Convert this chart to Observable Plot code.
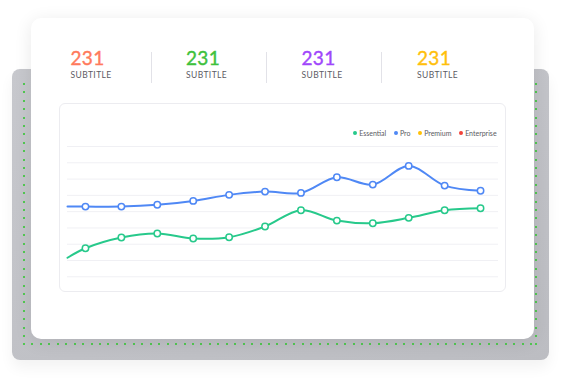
<!DOCTYPE html>
<html>
<head>
<meta charset="utf-8">
<script src="https://cdn.jsdelivr.net/npm/d3@7"></script>
<script src="https://cdn.jsdelivr.net/npm/@observablehq/plot@0.6"></script>
<style>
  html, body { margin: 0; padding: 0; background: #ffffff; }
  body { width: 564px; height: 382px; position: relative; overflow: hidden; font-family: Lato, "Open Sans", sans-serif; }
  .abs { position: absolute; }
  #back { left: 12px; top: 69px; width: 537px; height: 291px; border-radius: 8px;
    background: linear-gradient(160deg, #c7c8cd, #bcbdc2); box-shadow: 0 8px 14px rgba(0,0,0,0.05); }
  #dots { left: 23px; top: 83px; width: 514px; height: 262px;
    --g: #52c852;
    background:
      repeating-linear-gradient(to right, var(--g) 0 2px, transparent 2px 8.45px) left bottom / 100% 2px no-repeat,
      repeating-linear-gradient(to bottom, var(--g) 0 2px, transparent 2px 8.4px) left top / 2px 100% no-repeat,
      repeating-linear-gradient(to bottom, var(--g) 0 2px, transparent 2px 8.4px) right top / 2px 100% no-repeat; }
  #card { left: 31px; top: 18px; width: 503px; height: 321px; border-radius: 10px; background: #fff;
    box-shadow: 0 3px 18px rgba(0,0,0,0.09); }
  .num { font-size: 19px; line-height: 18px; font-weight: 400; letter-spacing: 0.3px; -webkit-text-stroke: 0.4px currentColor; }
  .sub { font-size: 8.5px; line-height: 9px; color: #5b5b64; letter-spacing: 0.4px; }
  .div { width: 1px; height: 31px; top: 52px; background: #e2e2e8; }
  #panel { left: 59px; top: 103px; width: 445px; height: 187px; border: 1px solid #ececf0; border-radius: 6px; background: #fff; }
  #chart { left: 59px; top: 103px; }
  #legend { left: 353px; top: 128px; height: 10px; display: flex; align-items: center; font-size: 7px; color: #5a5a62; white-space: nowrap; }
  #legend .item { display: flex; align-items: center; margin-right: 7.5px; }
  #legend .sw { width: 3.8px; height: 3.8px; border-radius: 50%; margin-right: 2.4px; }
</style>
</head>
<body>
<div id="back" class="abs"></div>
<div id="dots" class="abs"></div>
<div id="card" class="abs"></div>
<div id="stats"></div>
<div id="panel" class="abs"></div>
<div id="chart" class="abs"></div>
<div id="legend" class="abs"></div>
<script>
// ---- data ----
const statValues = ["231", "231", "231", "231"];
const statLabels = ["SUBTITLE", "SUBTITLE", "SUBTITLE", "SUBTITLE"];
const statColors = ["#ff7a5c", "#3ec13c", "#a046fb", "#ffbf0c"];

const seriesNames = ["Essential", "Pro", "Premium", "Enterprise"];
const seriesColors = ["#27c98b", "#4f88f5", "#ffc107", "#f2433a"];

const periods = [0, 1, 2, 3, 4, 5, 6, 7, 8, 9, 10, 11];
const essential = [17.5, 24.1, 26.6, 23.5, 24.3, 30.9, 40.9, 34.5, 32.9, 36.2, 40.9, 42.1];
const pro = [43.1, 43.1, 44.2, 46.6, 50.3, 52.3, 51.5, 61.1, 56.6, 68.1, 56.0, 52.8];
// value where each line enters from the left edge of the chart (half a period before the first)
const leadPeriod = -0.5;
const essentialLead = 11.7;
const proLead = 43.1;
const gridTicks = [0, 10, 20, 30, 40, 50, 60, 70, 80];

// ---- stats row ----
const stats = document.getElementById("stats");
const statLeft = [70.5, 186, 301.5, 417];
const divLeft = [151, 266, 381];
statValues.forEach((v, i) => {
  const n = document.createElement("div");
  n.className = "abs num"; n.textContent = v;
  n.style.left = statLeft[i] + "px"; n.style.top = "48.5px"; n.style.color = statColors[i];
  stats.appendChild(n);
  const s = document.createElement("div");
  s.className = "abs sub"; s.textContent = statLabels[i];
  s.style.left = statLeft[i] + "px"; s.style.top = "70.5px";
  stats.appendChild(s);
});
divLeft.forEach(x => {
  const d = document.createElement("div");
  d.className = "abs div"; d.style.left = x + "px";
  stats.appendChild(d);
});

// ---- legend ----
const legend = document.getElementById("legend");
seriesNames.forEach((name, i) => {
  const it = document.createElement("div"); it.className = "item";
  const sw = document.createElement("span"); sw.className = "sw"; sw.style.background = seriesColors[i];
  const t = document.createElement("span"); t.textContent = name;
  it.appendChild(sw); it.appendChild(t); legend.appendChild(it);
});

// ---- chart ----
const toRows = (name, values, lead) => [
  {series: name, x: leadPeriod, y: lead, marker: false},
  ...periods.map((p, i) => ({series: name, x: p, y: values[i], marker: true}))
];
const rows = [...toRows("Essential", essential, essentialLead), ...toRows("Pro", pro, proLead)];
const markers = rows.filter(d => d.marker);

const chart = Plot.plot({
  width: 447, height: 189,
  marginLeft: 8, marginRight: 8, marginTop: 43, marginBottom: 15.7,
  style: {background: "transparent", overflow: "visible"},
  x: {domain: [periods[0] + leadPeriod, periods[periods.length - 1] - leadPeriod], axis: null},
  y: {domain: [gridTicks[0], gridTicks[gridTicks.length - 1]], axis: null},
  color: {domain: seriesNames, range: seriesColors},
  marks: [
    Plot.ruleY(gridTicks, {stroke: "#f0f0f4", strokeWidth: 1}),
    Plot.line(rows, {x: "x", y: "y", z: "series", stroke: "series", strokeWidth: 2, curve: "catmull-rom"}),
    Plot.dot(markers, {x: "x", y: "y", stroke: "series", fill: "#ffffff", r: 3.2, strokeWidth: 1.5})
  ]
});
document.getElementById("chart").appendChild(chart);
</script>
</body>
</html>
